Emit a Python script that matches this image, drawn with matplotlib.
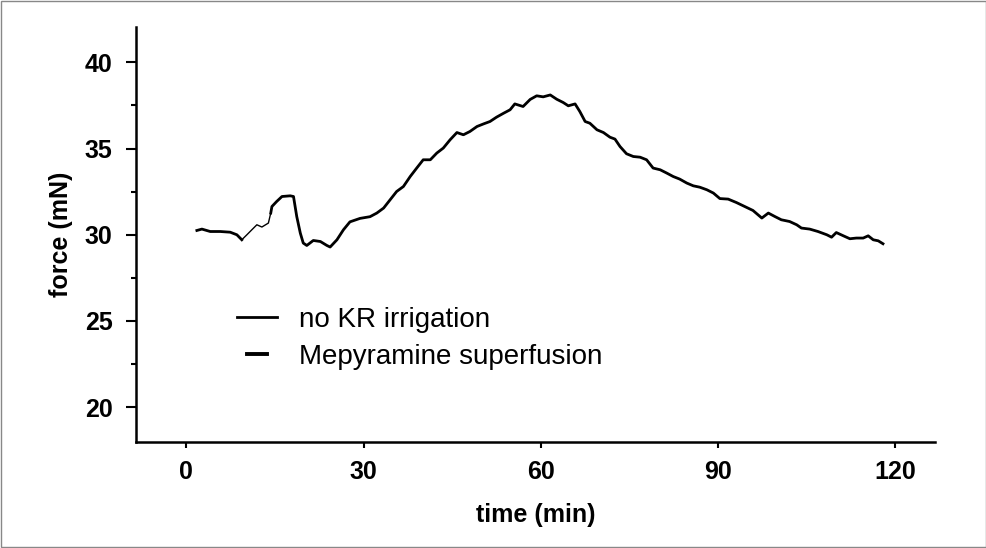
import numpy as np
import matplotlib
matplotlib.use("Agg")
import matplotlib.pyplot as plt
from matplotlib.lines import Line2D
from matplotlib.patches import Rectangle

plt.rcParams['font.family'] = ['Liberation Sans', 'DejaVu Sans']

# Force trace (time in min, force in mN)
time_min = [1.8, 2.65, 4.06, 5.75, 7.44, 8.57, 9.4, 10.26, 11.1, 11.95, 12.8, 13.9,
            14.3, 14.5, 15.3, 16.2, 17.6, 18.15, 18.7, 19.3, 19.8, 20.4, 21.5, 22.7,
            23.8, 24.35, 25.5, 26.6, 27.7, 29.4, 31.1, 32.25, 33.4, 34.5, 35.6, 36.75,
            37.9, 39.0, 40.1, 41.3, 42.4, 43.5, 44.65, 45.8, 46.9, 48.0, 49.2, 50.3,
            51.4, 52.5, 53.7, 54.8, 55.6, 57.0, 58.2, 59.3, 60.4, 61.6, 62.7, 63.8,
            64.65, 65.8, 66.6, 67.5, 68.3, 69.5, 70.6, 71.7, 72.55, 73.4, 74.5, 75.65,
            76.8, 77.9, 79.0, 80.2, 81.3, 82.4, 83.5, 84.7, 85.8, 86.9, 88.1, 89.2,
            90.3, 91.7, 93.1, 94.5, 95.9, 97.4, 98.5, 99.6, 100.7, 102.1, 103.3, 104.1,
            105.5, 106.9, 108.4, 109.2, 110.0, 111.2, 112.3, 113.4, 114.55, 115.4,
            116.25, 117.1, 117.9]
force_mN = [30.25, 30.33, 30.19, 30.19, 30.15, 30.0, 29.71, 30.0, 30.29, 30.58, 30.45, 30.68,
            31.26, 31.64, 31.93, 32.22, 32.26, 32.22, 31.06, 30.1, 29.52, 29.38, 29.67, 29.61,
            29.38, 29.29, 29.71, 30.29, 30.75, 30.95, 31.05, 31.26, 31.55, 32.03, 32.51, 32.8,
            33.38, 33.87, 34.35, 34.35, 34.74, 35.03, 35.51, 35.93, 35.8, 35.99, 36.28, 36.43,
            36.57, 36.82, 37.05, 37.25, 37.59, 37.44, 37.85, 38.06, 38.0, 38.11, 37.86, 37.67,
            37.48, 37.59, 37.15, 36.57, 36.47, 36.09, 35.93, 35.66, 35.55, 35.12, 34.7, 34.54,
            34.5, 34.35, 33.87, 33.77, 33.58, 33.38, 33.23, 33.0, 32.84, 32.76, 32.61, 32.42,
            32.1, 32.07, 31.87, 31.64, 31.41, 30.97, 31.26, 31.06, 30.87, 30.77, 30.58, 30.39,
            30.33, 30.19, 30.0, 29.86, 30.13, 29.94, 29.77, 29.81, 29.81, 29.94,
            29.71, 29.65, 29.48]

legend_labels = ["no KR irrigation", "Mepyramine superfusion"]
x_ticks = [0, 30, 60, 90, 120]
y_ticks = [20, 25, 30, 35, 40]

t = np.array(time_min)
f = np.array(force_mN)

fig = plt.figure(figsize=(9.87, 5.48), dpi=100)
ax = fig.add_axes([0.1378, 0.194, 0.8095, 0.7567])

# the trace is drawn thinner between ~9 and ~14 min in the original
thick1 = t <= 9.4
thin = (t >= 9.4) & (t <= 14.3)
thick2 = t >= 14.3
ax.plot(t[thick1], f[thick1], color="black", lw=2.0)
ax.plot(t[thin], f[thin], color="black", lw=1.0)
ax.plot(t[thick2], f[thick2], color="black", lw=2.0)

ax.set_xlim(-8.5, 126.7)
ax.set_ylim(18, 42.05)
ax.set_xticks(x_ticks)
ax.set_yticks(y_ticks)
ax.set_yticks([22.5, 27.5, 32.5, 37.5], minor=True)

for s in ["top", "right"]:
    ax.spines[s].set_visible(False)
for s in ["left", "bottom"]:
    ax.spines[s].set_linewidth(1.8)

ax.tick_params(axis="y", which="major", length=7, width=1.5, pad=10, labelsize=18)
ax.tick_params(axis="y", which="minor", length=3.5, width=1.5)
ax.tick_params(axis="x", which="major", length=4.5, width=1.5, pad=9, labelsize=18)
for lab in ax.get_xticklabels() + ax.get_yticklabels():
    lab.set_fontweight("bold")

ax.set_xlabel("time (min)", fontsize=18, fontweight="bold")
ax.set_ylabel("force (mN)", fontsize=18, fontweight="bold")
ax.xaxis.set_label_coords(0.5, -0.148)
ax.yaxis.set_label_coords(-0.079, 0.5)

# two legend entries with different handle lengths
h1 = Line2D([], [], color="black", lw=2.0)
h2 = Line2D([], [], color="black", lw=2.8)
leg1 = ax.legend([h1], [legend_labels[0]], loc="center left", bbox_to_anchor=(0.1264, 0.2935),
                 frameon=False, fontsize=20, handlelength=1.43, handletextpad=0.82,
                 borderpad=0, borderaxespad=0)
ax.add_artist(leg1)
ax.legend([h2], [legend_labels[1]], loc="center left", bbox_to_anchor=(0.1389, 0.2042),
          frameon=False, fontsize=20, handlelength=0.71, handletextpad=1.18,
          borderpad=0, borderaxespad=0)

# thin frame around the whole picture
fig.patches.append(Rectangle((0.001, 0.001), 0.998, 0.997, transform=fig.transFigure,
                             fill=False, edgecolor="#888888", lw=1))

fig.savefig("out.png", dpi=100)
